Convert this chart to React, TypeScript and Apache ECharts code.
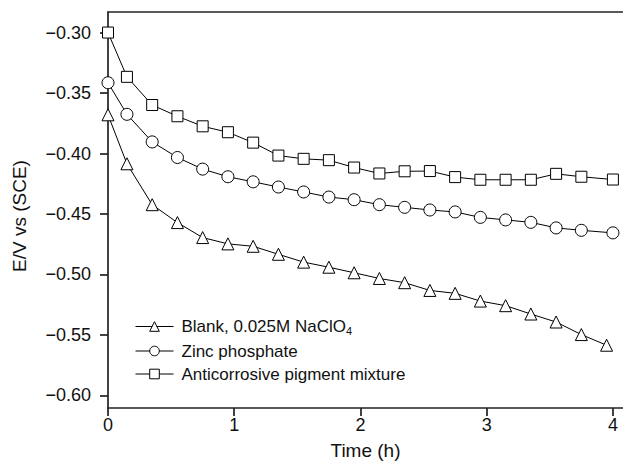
import React, { useEffect, useRef } from "react";
import * as echarts from "echarts";

const timeHours = [0, 0.15, 0.35, 0.55, 0.75, 0.95, 1.15, 1.35, 1.55, 1.75, 1.95, 2.15, 2.35, 2.55, 2.75, 2.95, 3.15, 3.35, 3.55, 3.75, 4.0];
const timeHoursBlank = [0, 0.15, 0.35, 0.55, 0.75, 0.95, 1.15, 1.35, 1.55, 1.75, 1.95, 2.15, 2.35, 2.55, 2.75, 2.95, 3.15, 3.35, 3.55, 3.75, 3.95];

const blankValues = [-0.368, -0.4085, -0.4423, -0.4571, -0.4695, -0.4747, -0.4767, -0.4833, -0.4898, -0.494, -0.4986, -0.5033, -0.5068, -0.5132, -0.5156, -0.522, -0.5258, -0.5327, -0.5393, -0.5497, -0.5585];
const zincValues = [-0.3415, -0.3676, -0.3904, -0.4033, -0.4129, -0.4192, -0.4234, -0.4277, -0.4318, -0.436, -0.4382, -0.4423, -0.4445, -0.4467, -0.4483, -0.4528, -0.4549, -0.4569, -0.4615, -0.4635, -0.4656];
const mixtureValues = [-0.3, -0.3366, -0.3599, -0.3692, -0.3775, -0.3824, -0.391, -0.4017, -0.4044, -0.4055, -0.4116, -0.4165, -0.4147, -0.4145, -0.4195, -0.4217, -0.4217, -0.4217, -0.4168, -0.4192, -0.4215];

const seriesNames = ["Blank, 0.025M NaClO4", "Zinc phosphate", "Anticorrosive pigment mixture"];
const xTicks = [0, 1, 2, 3, 4];
const yTicks = [-0.6, -0.55, -0.5, -0.45, -0.4, -0.35, -0.3];

const FONT = '"Liberation Sans", Arial, Helvetica, sans-serif';
const AXIS_COLOR = "#222";

function pairs(xs: number[], ys: number[]) {
  return xs.map((x, i) => [x, ys[i]]);
}

export default function App() {
  const ref = useRef<HTMLDivElement>(null);
  useEffect(() => {
    if (!ref.current) return;
    const chart = echarts.init(ref.current, null, { renderer: "svg" });
    const makeSeries = (name: string, data: number[][], symbol: string, size: number) => ({
      name,
      type: "line",
      data,
      symbol,
      symbolSize: size,
      showAllSymbol: true,
      lineStyle: { color: "#000", width: 1 },
      itemStyle: { color: "#fff", borderColor: "#000", borderWidth: 1 },
      emphasis: { disabled: true },
      z: 3,
    });
    chart.setOption({
      animation: false,
      backgroundColor: "#fff",
      textStyle: { fontFamily: FONT },
      grid: { left: 108, right: 0, top: 12, bottom: 56, containLabel: false },
      legend: {
        orient: "vertical",
        left: 130,
        top: 313,
        itemWidth: 38,
        itemHeight: 12,
        itemGap: 6,
        selectedMode: false,
        lineStyle: { width: 1, color: "#000" },
        itemStyle: { color: "#fff", borderColor: "#000", borderWidth: 1 },
        textStyle: {
          fontFamily: FONT,
          fontSize: 17,
          color: "#111",
          padding: [0, 0, 0, 3],
          rich: {
            sub: { fontSize: 11, fontFamily: FONT, color: "#111", padding: [9, 0, 0, 0] },
          },
        },
        formatter: (name: string) =>
          name === seriesNames[0] ? "Blank, 0.025M NaClO{sub|4}" : name,
        data: seriesNames,
      },
      xAxis: [
        {
          type: "value",
          min: 0,
          max: 4.08,
          name: "Time (h)",
          nameLocation: "middle",
          nameGap: 33,
          nameTextStyle: { fontFamily: FONT, fontSize: 19, color: "#111" },
          axisLine: { show: true, lineStyle: { color: AXIS_COLOR, width: 1.7 } },
          axisTick: { show: true, inside: false, length: 8, customValues: xTicks, lineStyle: { color: AXIS_COLOR, width: 1.7 } },
          axisLabel: { customValues: xTicks, margin: 8, fontFamily: FONT, fontSize: 18, color: "#111", formatter: (v: number) => String(v) },
          splitLine: { show: false },
        },
        {
          type: "value",
          position: "top",
          min: 0,
          max: 4.08,
          axisLine: { show: true, lineStyle: { color: AXIS_COLOR, width: 1.7 } },
          axisTick: { show: false },
          axisLabel: { show: false },
          splitLine: { show: false },
        },
      ],
      yAxis: {
        type: "value",
        min: -0.6104,
        max: -0.283,
        name: "E/V vs (SCE)",
        nameLocation: "middle",
        nameGap: 79,
        nameTextStyle: { fontFamily: FONT, fontSize: 19, color: "#111", padding: [0, 12, 0, 0] },
        axisLine: { show: true, lineStyle: { color: AXIS_COLOR, width: 1.7 } },
        axisTick: { show: true, inside: false, length: 8, customValues: yTicks, lineStyle: { color: AXIS_COLOR, width: 1.7 } },
        axisLabel: {
          customValues: yTicks,
          margin: 17,
          fontFamily: FONT,
          fontSize: 18,
          color: "#111",
          formatter: (v: number) => v.toFixed(2).replace("-", "\u2212"),
        },
        splitLine: { show: false },
      },
      series: [
        makeSeries(seriesNames[0], pairs(timeHoursBlank, blankValues), "triangle", 12),
        makeSeries(seriesNames[1], pairs(timeHours, zincValues), "circle", 12),
        makeSeries(seriesNames[2], pairs(timeHours, mixtureValues), "rect", 11),
      ],
    });
    return () => chart.dispose();
  }, []);
  return <div ref={ref} style={{ position: "absolute", left: 0, top: 0, width: 623, height: 465 }} />;
}
